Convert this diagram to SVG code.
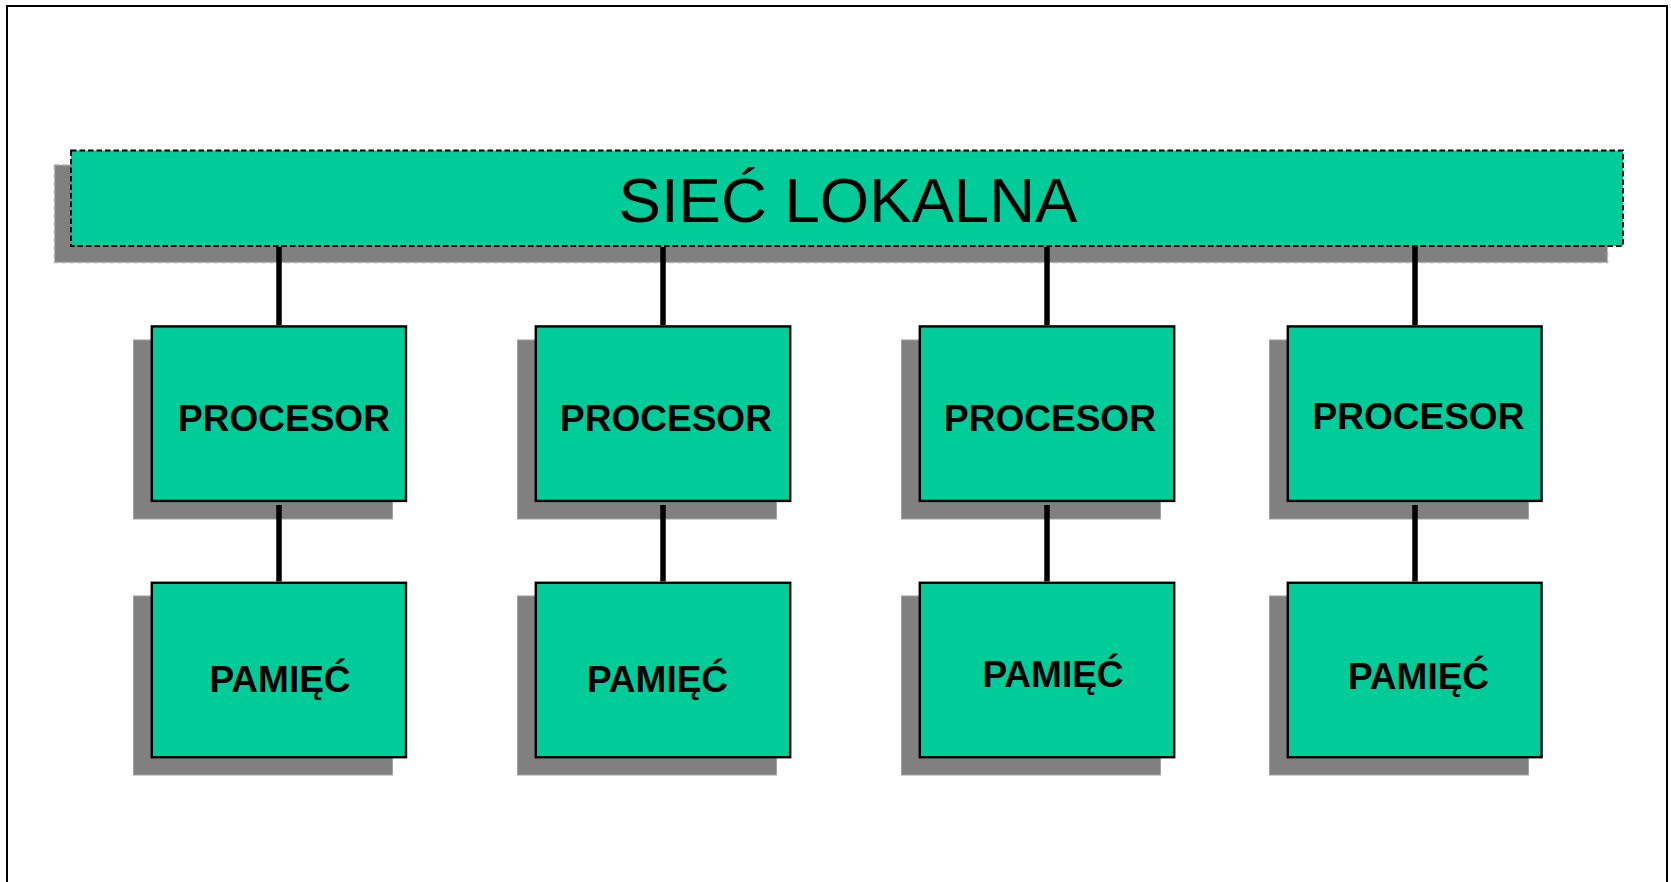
<svg xmlns="http://www.w3.org/2000/svg" width="1671" height="882" viewBox="0 0 1671 882">
<style>
.box{fill:#00CC99;stroke:#000;stroke-width:2.4}
.shadow{fill:#808080;stroke:#A0A0A0;stroke-width:1}
.lbl{font-family:"Liberation Sans",Arial,sans-serif;font-weight:bold;font-size:37px;fill:#000;text-anchor:middle}
.conn{stroke:#000;stroke-width:5.5;fill:none}
</style>
<rect x="0" y="0" width="1671" height="882" fill="#fff"/>
<rect x="7" y="6" width="1660" height="900" fill="none" stroke="#000" stroke-width="2"/>
<g id="siec">
<rect x="54.5" y="165" width="1553" height="97.5" fill="#808080" stroke="#B0B0B0" stroke-width="1.5" stroke-dasharray="5,3"/>
<rect x="71" y="150.5" width="1552" height="95.5" fill="#00CC99" stroke="#000" stroke-width="1.8" stroke-dasharray="5.5,3"/>
<text x="848" y="221.5" font-family="'Liberation Sans',Arial,sans-serif" font-size="63.5" fill="#000" text-anchor="middle">SIEĆ LOKALNA</text>
</g>
<g id="procesor1">
<rect class="shadow" x="133.5" y="340" width="259" height="179"/>
<rect class="box" x="151.8" y="326.4" width="254.2" height="174.5"/>
<text class="lbl" x="284" y="430.5">PROCESOR</text>
</g>
<g id="procesor2">
<rect class="shadow" x="517.5" y="340" width="259" height="179"/>
<rect class="box" x="535.8" y="326.4" width="254.4" height="174.5"/>
<text class="lbl" x="666" y="430.5">PROCESOR</text>
</g>
<g id="procesor3">
<rect class="shadow" x="901.5" y="340" width="259" height="179"/>
<rect class="box" x="919.8" y="326.4" width="254.4" height="174.5"/>
<text class="lbl" x="1050" y="430.5">PROCESOR</text>
</g>
<g id="procesor4">
<rect class="shadow" x="1269.5" y="340" width="259" height="179"/>
<rect class="box" x="1287.8" y="326.4" width="253.8" height="174.5"/>
<text class="lbl" x="1418.5" y="428.5">PROCESOR</text>
</g>
<g id="pamiec1">
<rect class="shadow" x="133.5" y="596" width="259" height="179"/>
<rect class="box" x="151.8" y="582.8" width="254.2" height="174.4"/>
<text class="lbl" x="280" y="691.5">PAMIĘĆ</text>
</g>
<g id="pamiec2">
<rect class="shadow" x="517.5" y="596" width="259" height="179"/>
<rect class="box" x="535.8" y="582.8" width="254.4" height="174.4"/>
<text class="lbl" x="657.5" y="691.5">PAMIĘĆ</text>
</g>
<g id="pamiec3">
<rect class="shadow" x="901.5" y="596" width="259" height="179"/>
<rect class="box" x="919.8" y="582.8" width="254.4" height="174.4"/>
<text class="lbl" x="1053" y="686.5">PAMIĘĆ</text>
</g>
<g id="pamiec4">
<rect class="shadow" x="1269.5" y="596" width="259" height="179"/>
<rect class="box" x="1287.8" y="582.8" width="253.8" height="174.4"/>
<text class="lbl" x="1418.5" y="689">PAMIĘĆ</text>
</g>
<g id="connectors">
<line class="conn" x1="279" y1="247" x2="279" y2="325"/>
<line class="conn" x1="663" y1="247" x2="663" y2="325"/>
<line class="conn" x1="1047" y1="247" x2="1047" y2="325"/>
<line class="conn" x1="1415" y1="247" x2="1415" y2="325"/>
<line class="conn" x1="279" y1="505" x2="279" y2="581.5"/>
<line class="conn" x1="663" y1="505" x2="663" y2="581.5"/>
<line class="conn" x1="1047" y1="505" x2="1047" y2="581.5"/>
<line class="conn" x1="1415" y1="505" x2="1415" y2="581.5"/>
</g>
</svg>
